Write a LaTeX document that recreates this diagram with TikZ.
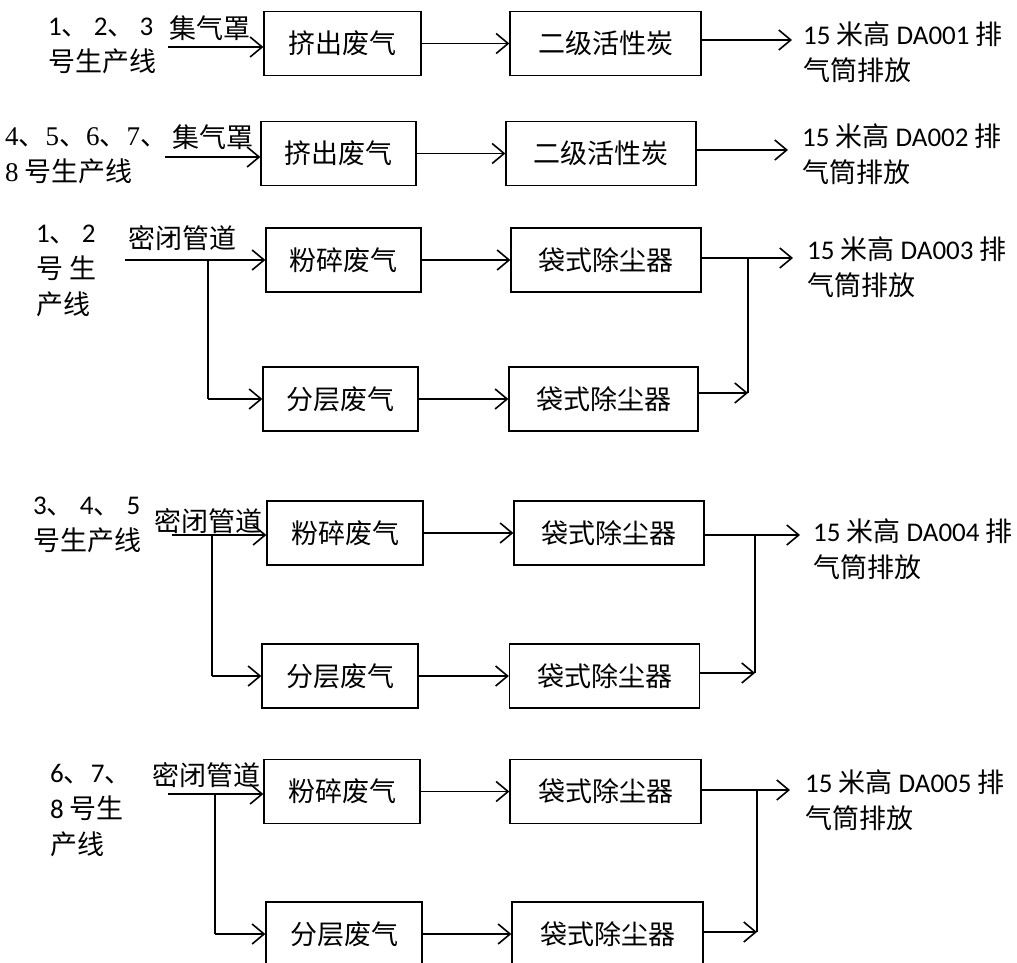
\documentclass[tikz,border=0pt]{standalone}
\usepackage{fontspec}
\setmainfont{Noto Sans CJK SC}
\newfontfamily\calibri{Carlito}
\newfontfamily\tnr{Liberation Serif}
\usetikzlibrary{arrows.meta}

\begin{document}
\begin{tikzpicture}[x=1pt, y=-1pt,
    every node/.style={font=\fontsize{27}{36}\selectfont},
    box/.style={draw, line width=1.3pt, minimum height=64pt, inner sep=0pt},
    flow/.style={line width=1.6pt, -{Straight Barb[length=12pt, width=20pt]}},
    pipe/.style={line width=2.6pt},
    txt/.style={align=left, anchor=west, inner sep=0pt}]
    \useasboundingbox (0,0) rectangle (1017,963);
    \clip (0,0) rectangle (1017,963);

    % Lines 1-3: extrusion gas, hood, activated carbon
    \node[txt] (src1) at (48,46) {{\calibri 1}、\hspace{5pt}{\calibri 2}、\hspace{5pt}{\calibri 3}\\号生产线};
    \node (hood1) at (210,28) {集气罩};
    \coordinate (in1) at (168,47);
    \node[box, minimum width=157pt] (ext1) at (342.5,43.5) {挤出废气};
    \node[box, minimum width=191pt] (carb1) at (605.5,43.5) {二级活性炭};
    \coordinate (end1) at (792,40);
    \node[txt] (out1) at (803,52) {{\calibri 15} 米高 {\calibri DA001} 排\\气筒排放};
    \draw[flow] (in1) -- (in1 -| ext1.west);
    \draw[flow] (ext1) -- (carb1);
    \draw[flow] (carb1.east |- end1) -- (end1);

    % Lines 4-8: same route
    \node[txt] (src2) at (5,156) {{\tnr 4}、{\tnr 5}、{\tnr 6}、{\tnr 7}、\\{\tnr 8} 号生产线};
    \node (hood2) at (213,137) {集气罩};
    \coordinate (in2) at (165,157);
    \node[box, minimum width=155pt] (ext2) at (338.5,153.5) {挤出废气};
    \node[box, minimum width=190pt] (carb2) at (601,153.5) {二级活性炭};
    \coordinate (end2) at (788,150);
    \node[txt] (out2) at (802,154) {{\calibri 15} 米高 {\calibri DA002} 排\\气筒排放};
    \draw[flow] (in2) -- (in2 -| ext2.west);
    \draw[flow] (ext2) -- (carb2);
    \draw[flow] (carb2.east |- end2) -- (end2);

    % Lines 1-2: crushing and layering, bag filters
    \node[txt] (src3) at (36,271) {{\calibri 1}、\hspace{5pt}{\calibri 2}\\号 生\\产线};
    \node (duct3) at (182,238) {密闭管道};
    \coordinate (in3) at (125,260);
    \coordinate (split3) at (208,260);
    \node[box, minimum width=155pt] (crush3) at (343.5,260) {粉碎废气};
    \node[box, minimum width=190pt] (bagA3) at (606,260) {袋式除尘器};
    \node[box, minimum width=155pt] (layer3) at (340.5,399) {分层废气};
    \node[box, minimum width=189pt] (bagB3) at (603.5,399) {袋式除尘器};
    \coordinate (join3) at (748,393);
    \coordinate (end3) at (793,258);
    \node[txt] (out3) at (807,267) {{\calibri 15} 米高 {\calibri DA003} 排\\气筒排放};
    \draw[flow] (in3) -- (crush3);
    \draw[line width=1.6pt] (split3) -- (split3 |- layer3.west);
    \draw[flow] (split3 |- layer3.west) -- (layer3.west);
    \draw[flow] (crush3) -- (bagA3);
    \draw[flow] (layer3) -- (bagB3);
    \draw[flow] (bagB3.east |- join3) -- (join3);
    \draw[pipe] (join3) -- (join3 |- end3);
    \draw[flow] (bagA3.east |- end3) -- (end3);

    % Lines 3-5
    \node[txt] (src4) at (33,525) {{\calibri 3}、 {\calibri 4}、 {\calibri 5}\\号生产线};
    \node (duct4) at (208,521) {密闭管道};
    \coordinate (in4) at (172,535);
    \coordinate (split4) at (212,535);
    \node[box, minimum width=156pt] (crush4) at (345,533) {粉碎废气};
    \node[box, minimum width=190pt] (bagA4) at (609,533) {袋式除尘器};
    \node[box, minimum width=156pt] (layer4) at (340,676) {分层废气};
    \node[box, minimum width=190pt] (bagB4) at (604.5,676) {袋式除尘器};
    \coordinate (join4) at (755,673);
    \coordinate (end4) at (800,535);
    \node[txt] (out4) at (813,549) {{\calibri 15} 米高 {\calibri DA004} 排\\气筒排放};
    \draw[flow] (in4) -- (in4 -| crush4.west);
    \draw[pipe] (split4) -- (split4 |- layer4.west);
    \draw[flow] (split4 |- layer4.west) -- (layer4.west);
    \draw[flow] (crush4) -- (bagA4);
    \draw[flow] (layer4) -- (bagB4);
    \draw[flow] (bagB4.east |- join4) -- (join4);
    \draw[pipe] (join4) -- (join4 |- end4);
    \draw[flow] (bagA4.east |- end4) -- (end4);

    % Lines 6-8
    \node[txt] (src5) at (50,811) {{\calibri 6}、{\calibri 7}、\\{\calibri 8} 号生\\产线};
    \node (duct5) at (206,775) {密闭管道};
    \coordinate (in5) at (168,794);
    \coordinate (split5) at (215,794);
    \node[box, minimum width=156pt] (crush5) at (342,791.5) {粉碎废气};
    \node[box, minimum width=191pt] (bagA5) at (605.5,791.5) {袋式除尘器};
    \node[box, minimum width=156pt] (layer5) at (344,934) {分层废气};
    \node[box, minimum width=191pt] (bagB5) at (607.5,934) {袋式除尘器};
    \coordinate (join5) at (757,932);
    \coordinate (end5) at (790,790);
    \node[txt] (out5) at (805,800) {{\calibri 15} 米高 {\calibri DA005} 排\\气筒排放};
    \draw[flow] (in5) -- (in5 -| crush5.west);
    \draw[pipe] (split5) -- (split5 |- layer5.west);
    \draw[flow] (split5 |- layer5.west) -- (layer5.west);
    \draw[flow] (crush5) -- (bagA5);
    \draw[flow] (layer5) -- (bagB5);
    \draw[flow] (bagB5.east |- join5) -- (join5);
    \draw[pipe] (join5) -- (join5 |- end5);
    \draw[flow] (bagA5.east |- end5) -- (end5);
\end{tikzpicture}
\end{document}
